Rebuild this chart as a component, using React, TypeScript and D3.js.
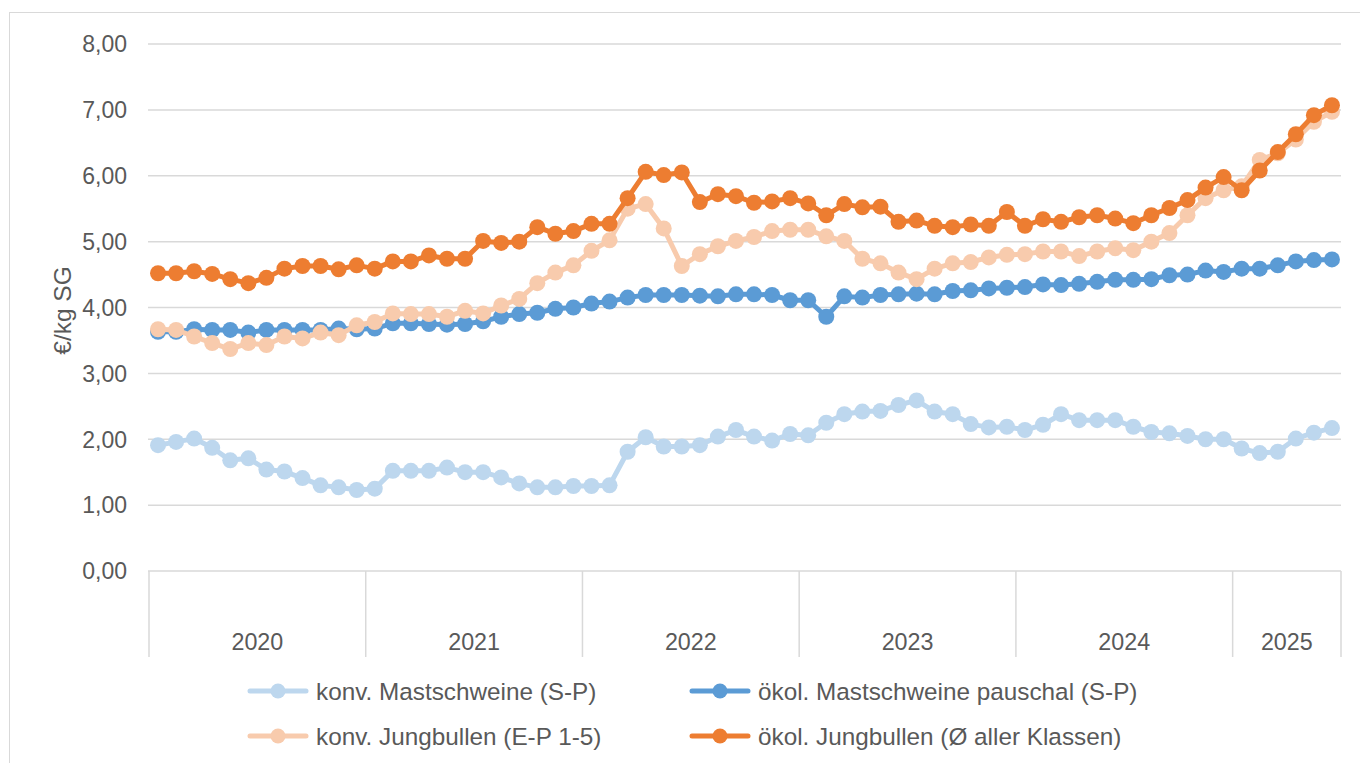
import React from "react";
import * as d3 from "d3";

const years = ["2020", "2021", "2022", "2023", "2024", "2025"];
const monthsInYear = [12, 12, 12, 12, 12, 6];

const konvSchweine = [
  1.91, 1.96, 2.01, 1.87, 1.68, 1.71, 1.54, 1.51, 1.41, 1.30, 1.27, 1.23,
  1.25, 1.52, 1.52, 1.52, 1.57, 1.50, 1.50, 1.42, 1.33, 1.27, 1.27, 1.29,
  1.29, 1.30, 1.81, 2.03, 1.89, 1.89, 1.91, 2.04, 2.14, 2.04, 1.98, 2.08,
  2.06, 2.25, 2.38, 2.42, 2.43, 2.52, 2.59, 2.42, 2.38, 2.23, 2.18, 2.19,
  2.14, 2.22, 2.38, 2.29, 2.29, 2.29, 2.19, 2.11, 2.09, 2.05, 2.00, 2.00,
  1.86, 1.79, 1.81, 2.01, 2.10, 2.17,
];
const oekoSchweine = [
  3.63, 3.63, 3.67, 3.66, 3.66, 3.62, 3.66, 3.66, 3.66, 3.66, 3.68, 3.67,
  3.68, 3.76, 3.76, 3.75, 3.74, 3.75, 3.79, 3.86, 3.90, 3.92, 3.98, 4.00,
  4.06, 4.09, 4.15, 4.19, 4.19, 4.19, 4.18, 4.17, 4.20, 4.20, 4.19, 4.11,
  4.11, 3.86, 4.17, 4.15, 4.19, 4.20, 4.21, 4.20, 4.25, 4.26, 4.29, 4.30,
  4.31, 4.35, 4.34, 4.36, 4.39, 4.42, 4.42, 4.43, 4.49, 4.50, 4.56, 4.54,
  4.59, 4.59, 4.64, 4.70, 4.72, 4.73,
];
const konvBullen = [
  3.67, 3.66, 3.56, 3.46, 3.37, 3.46, 3.43, 3.56, 3.53, 3.62, 3.58, 3.73,
  3.78, 3.91, 3.90, 3.90, 3.86, 3.95, 3.91, 4.03, 4.13, 4.37, 4.53, 4.64,
  4.86, 5.02, 5.50, 5.57, 5.20, 4.63, 4.81, 4.93, 5.01, 5.07, 5.16, 5.18,
  5.18, 5.08, 5.01, 4.74, 4.67, 4.53, 4.43, 4.59, 4.67, 4.69, 4.76, 4.80,
  4.81, 4.85, 4.85, 4.78, 4.85, 4.90, 4.87, 5.00, 5.13, 5.40, 5.66, 5.78,
  5.84, 6.24, 6.34, 6.55, 6.82, 6.97,
];
const oekoBullen = [
  4.52, 4.52, 4.55, 4.51, 4.43, 4.37, 4.45, 4.59, 4.63, 4.63, 4.58, 4.64,
  4.59, 4.70, 4.70, 4.79, 4.74, 4.74, 5.01, 4.98, 5.00, 5.22, 5.12, 5.16,
  5.27, 5.27, 5.66, 6.06, 6.01, 6.05, 5.60, 5.72, 5.69, 5.59, 5.61, 5.66,
  5.58, 5.40, 5.57, 5.52, 5.53, 5.30, 5.32, 5.24, 5.22, 5.26, 5.24, 5.45,
  5.24, 5.34, 5.30, 5.37, 5.40, 5.35, 5.28, 5.40, 5.51, 5.63, 5.82, 5.98,
  5.78, 6.08, 6.36, 6.63, 6.92, 7.07,
];

const yTicks = [0, 1, 2, 3, 4, 5, 6, 7, 8];

const seriesNames = [
  "konv. Mastschweine (S-P)",
  "ökol. Mastschweine pauschal (S-P)",
  "konv. Jungbullen (E-P 1-5)",
  "ökol. Jungbullen (Ø aller Klassen)",
];
const seriesColors = ["#BDD7EE", "#5B9BD5", "#F8CBAD", "#ED7D31"];
const seriesData = [konvSchweine, oekoSchweine, konvBullen, oekoBullen];

const FONT = "'Liberation Sans', Arial, sans-serif";
const TXT = "#595959";
const GRID = "#d9d9d9";

export default function App() {
  const W = 1360;
  const H = 763;
  const left = 149;
  const right = 1341;
  const top = 44;
  const bottom = 571;

  const categories: string[] = [];
  years.forEach((yr, yi) => {
    for (let m = 1; m <= monthsInYear[yi]; m++) categories.push(`${yr}-${m}`);
  });

  const x = d3.scaleBand<string>().domain(categories).range([left, right]).padding(0);
  const y = d3.scaleLinear().domain([0, 8]).range([bottom, top]);
  const cx = (i: number) => (x(categories[i]) as number) + x.bandwidth() / 2;

  const line = d3
    .line<number>()
    .x((_, i) => cx(i))
    .y((d) => y(d));

  const fmt = (v: number) => d3.format(".2f")(v).replace(".", ",");

  const bounds: { year: string; x0: number; x1: number }[] = [];
  let idx = 0;
  years.forEach((yr, yi) => {
    const first = categories[idx];
    const last = categories[idx + monthsInYear[yi] - 1];
    bounds.push({
      year: yr,
      x0: x(first) as number,
      x1: (x(last) as number) + x.bandwidth(),
    });
    idx += monthsInYear[yi];
  });

  const legendItems = [
    { s: 0, lx: 250, ly: 691 },
    { s: 1, lx: 692, ly: 691 },
    { s: 2, lx: 250, ly: 736 },
    { s: 3, lx: 692, ly: 736 },
  ];

  return (
    <svg
      width={W}
      height={H}
      style={{ position: "absolute", left: 0, top: 0, background: "#fff" }}
      fontFamily={FONT}
    >
      <rect x={9.5} y={12.5} width={1400} height={800} fill="#fff" stroke={GRID} strokeWidth={1} />

      {yTicks.map((t) => (
        <g key={t}>
          <line x1={left - 1} x2={right} y1={y(t)} y2={y(t)} stroke={GRID} strokeWidth={1.5} />
          <text x={127} y={y(t)} dy="0.36em" textAnchor="end" fontSize={23} fill={TXT}>
            {fmt(t)}
          </text>
        </g>
      ))}

      <text
        transform={`translate(62,${(top + bottom) / 2 + 3}) rotate(-90)`}
        textAnchor="middle"
        dy="0.36em"
        fontSize={24.5}
        fill={TXT}
      >
        €/kg SG
      </text>

      {bounds.map((b, i) => (
        <line key={"s" + i} x1={b.x0} x2={b.x0} y1={bottom} y2={657} stroke={GRID} strokeWidth={1.5} />
      ))}
      <line x1={right} x2={right} y1={bottom} y2={657} stroke={GRID} strokeWidth={1.5} />
      {bounds.map((b) => (
        <text
          key={b.year}
          x={(b.x0 + b.x1) / 2}
          y={650}
          textAnchor="middle"
          fontSize={23.3}
          fill={TXT}
        >
          {b.year}
        </text>
      ))}

      {seriesData.map((data, si) => (
        <g key={si}>
          <path d={line(data) || ""} fill="none" stroke={seriesColors[si]} strokeWidth={5} strokeLinejoin="round" />
          {data.map((v, i) => (
            <circle key={i} cx={cx(i)} cy={y(v)} r={8} fill={seriesColors[si]} />
          ))}
        </g>
      ))}

      {legendItems.map((it) => (
        <g key={it.s}>
          <line
            x1={it.lx}
            x2={it.lx + 56}
            y1={it.ly}
            y2={it.ly}
            stroke={seriesColors[it.s]}
            strokeWidth={5}
            strokeLinecap="round"
          />
          <circle cx={it.lx + 28} cy={it.ly} r={7.5} fill={seriesColors[it.s]} />
          <text x={it.lx + 66} y={it.ly} dy="0.36em" fontSize={24.3} fill={TXT}>
            {seriesNames[it.s]}
          </text>
        </g>
      ))}
    </svg>
  );
}
